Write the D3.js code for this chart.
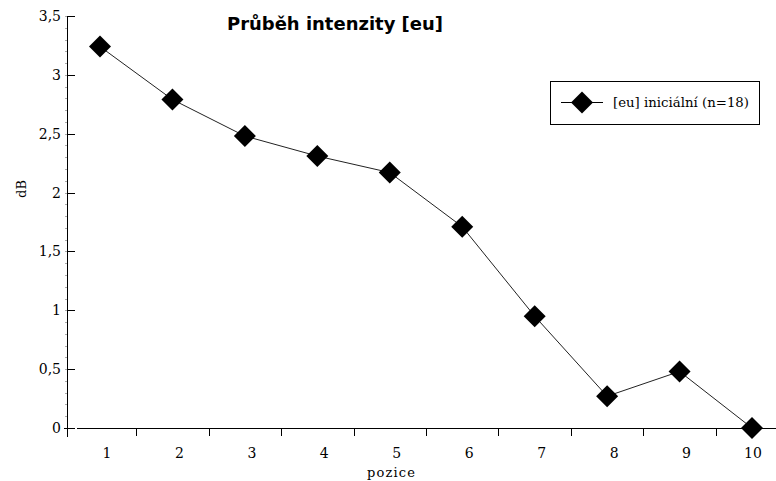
<!DOCTYPE html>
<html><head><meta charset="utf-8">
<script src="https://cdn.jsdelivr.net/npm/d3@7"></script>
<style>body{margin:0;background:#fff}svg{display:block}</style>
</head><body>
<svg id="c" width="776" height="481"></svg>
<script>
const categories = [1,2,3,4,5,6,7,8,9,10];
const values = [3.24, 2.79, 2.48, 2.31, 2.17, 1.71, 0.95, 0.27, 0.48, 0.0];
const yTicks = [0,0.5,1,1.5,2,2.5,3,3.5];
const title = "Průběh intenzity [eu]";
const seriesName = "[eu] iniciální (n=18)";
const xTitle = "pozice";
const yTitle = "dB";

const svg = d3.select("#c");
const x = d3.scaleLinear().domain([1,10]).range([100,752]);
const y = d3.scaleLinear().domain([0,3.5]).range([428,16]);
const serif = "'DejaVu Serif',serif";
const fmt = d => String(d).replace(".", ",");

// minor y ticks
const minor = d3.range(0, 3.5001, 0.1);
svg.append("g").selectAll("line").data(minor).join("line")
  .attr("x1",65).attr("x2",67).attr("y1",d=>Math.round(y(d))+0.5).attr("y2",d=>Math.round(y(d))+0.5)
  .attr("stroke","#aaa").attr("stroke-width",1);

// y axis
const ya = svg.append("g");
ya.append("line").attr("x1",67.5).attr("x2",67.5).attr("y1",y(3.5)).attr("y2",437).attr("stroke","#000");
ya.selectAll("line.t").data(yTicks).join("line").attr("class","t")
  .attr("x1",d=>d===0?64:67).attr("x2",75)
  .attr("y1",d=>Math.round(y(d))+0.5).attr("y2",d=>Math.round(y(d))+0.5).attr("stroke","#000");
ya.selectAll("text").data(yTicks).join("text")
  .attr("x",61).attr("y",d=>y(d)).attr("dy","0.36em").attr("text-anchor","end")
  .attr("font-family",serif).attr("font-size",14).attr("fill","#000").text(fmt);

// x axis
const xa = svg.append("g");
xa.append("line").attr("x1",77).attr("x2",776).attr("y1",428.5).attr("y2",428.5).attr("stroke","#000");
xa.selectAll("line.t").data(categories.slice(0,-1)).join("line").attr("class","t")
  .attr("x1",d=>Math.round(x(d+0.5))+0.5).attr("x2",d=>Math.round(x(d+0.5))+0.5)
  .attr("y1",428).attr("y2",436).attr("stroke","#000");
xa.selectAll("text").data(categories).join("text")
  .attr("x",d=>x(d)+(d===10?1:7)).attr("y",458).attr("text-anchor","middle")
  .attr("font-family",serif).attr("font-size",14).attr("fill","#000").text(d=>d);

// axis titles
svg.append("text").attr("x",391).attr("y",477).attr("text-anchor","middle")
  .attr("font-family",serif).attr("font-size",13).attr("textLength",48).attr("lengthAdjust","spacing").text(xTitle);
svg.append("text").attr("transform","translate(26,189) rotate(-90)").attr("text-anchor","middle")
  .attr("font-family",serif).attr("font-size",13).text(yTitle);

// title
svg.append("text").attr("x",227).attr("y",30).attr("font-family","'DejaVu Sans',sans-serif")
  .attr("font-weight","bold").attr("font-size",18).attr("textLength",216).attr("lengthAdjust","spacingAndGlyphs").text(title);

// line
const pts = categories.map((c,i)=>[x(c), y(values[i])]);
svg.append("path").attr("d", d3.line()(pts)).attr("fill","none").attr("stroke","#222").attr("stroke-width",1);
const diamond = d3.symbol().type(d3.symbolSquare).size(242);
svg.append("g").selectAll("path").data(pts).join("path")
  .attr("d", diamond).attr("transform",d=>`translate(${d[0]},${d[1]}) rotate(45)`).attr("fill","#000");

// legend
const lg = svg.append("g");
lg.append("rect").attr("x",550.5).attr("y",81.5).attr("width",209).attr("height",43).attr("fill","#fff").attr("stroke","#000");
lg.append("line").attr("x1",561).attr("x2",603).attr("y1",102.5).attr("y2",102.5).attr("stroke","#000");
lg.append("path").attr("d",diamond).attr("transform","translate(582,102.5) rotate(45)").attr("fill","#000");
lg.append("text").attr("x",613).attr("y",107).attr("font-family",serif).attr("font-size",13)
  .attr("textLength",136).attr("lengthAdjust","spacingAndGlyphs").text(seriesName);
</script>
</body></html>
